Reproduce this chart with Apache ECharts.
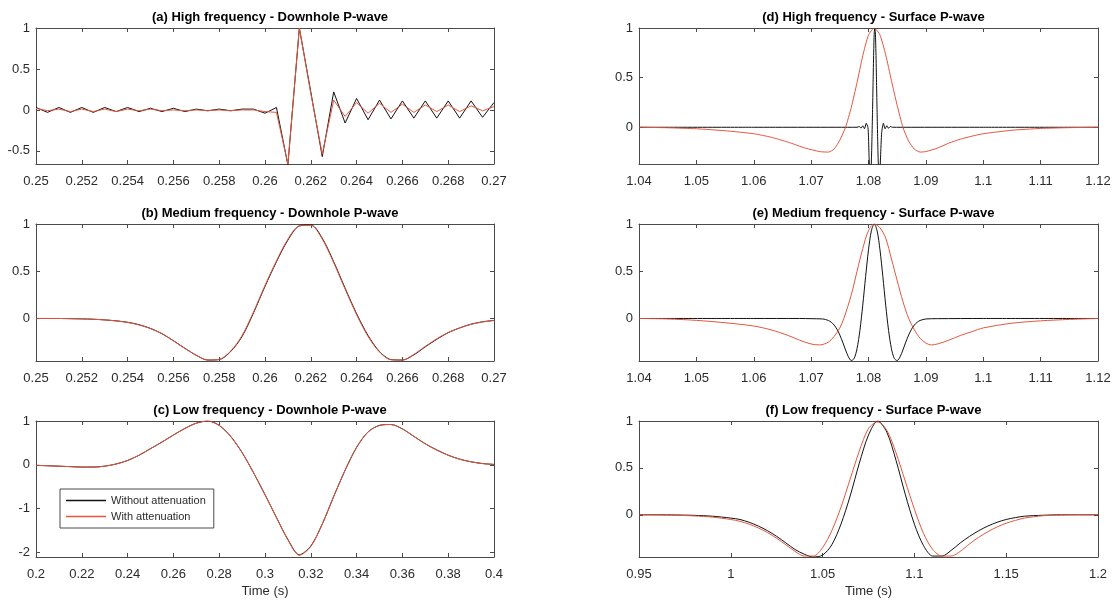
<!DOCTYPE html>
<html>
<head>
<meta charset="utf-8">
<script src="https://cdn.jsdelivr.net/npm/echarts@6/dist/echarts.min.js"></script>
<style>
html,body{margin:0;padding:0;background:#fff;}
#chart{width:1119px;height:601px;}
</style>
</head>
<body>
<div id="chart"></div>
<script>
// ---------------- DATA ----------------
const seriesNames = ['Without attenuation', 'With attenuation'];
const panelTitles = [
  '(a) High frequency - Downhole P-wave',
  '(b) Medium frequency - Downhole P-wave',
  '(c) Low frequency - Downhole P-wave',
  '(d) High frequency - Surface P-wave',
  '(e) Medium frequency - Surface P-wave',
  '(f) Low frequency - Surface P-wave'
];
const xAxisTitle = 'Time (s)';

// tick labels
const aXTicks = [0.25,0.252,0.254,0.256,0.258,0.26,0.262,0.264,0.266,0.268,0.27];
const bXTicks = [0.25,0.252,0.254,0.256,0.258,0.26,0.262,0.264,0.266,0.268,0.27];
const cXTicks = [0.2,0.22,0.24,0.26,0.28,0.3,0.32,0.34,0.36,0.38,0.4];
const dXTicks = [1.04,1.05,1.06,1.07,1.08,1.09,1.1,1.11,1.12];
const eXTicks = [1.04,1.05,1.06,1.07,1.08,1.09,1.1,1.11,1.12];
const fXTicks = [0.95,1,1.05,1.1,1.15,1.2];
const aYTicks = [-0.5,0,0.5,1];
const bYTicks = [0,0.5,1];
const cYTicks = [-2,-1,0,1];
const dYTicks = [0,0.5,1];
const eYTicks = [0,0.5,1];
const fYTicks = [0,0.5,1];

// axis ranges [xmin, xmax, ymin, ymax]
const aRange = [0.25, 0.27, -0.66, 1];
const bRange = [0.25, 0.27, -0.45, 1];
const cRange = [0.2, 0.4, -2.1, 1];
const dRange = [1.04, 1.12, -0.37, 1];
const eRange = [1.04, 1.12, -0.45, 1];
const fRange = [0.95, 1.2, -0.45, 1];

// (a) high frequency downhole
const aTime = [0.25,0.2505,0.251,0.2515,0.252,0.2525,0.253,0.2535,0.254,0.2545,0.255,0.2555,0.256,0.2565,0.257,0.2575,0.258,0.2585,0.259,0.2595,0.26,0.2605,0.261,0.2615,0.262,0.2625,0.263,0.2635,0.264,0.2645,0.265,0.2655,0.266,0.2665,0.267,0.2675,0.268,0.2685,0.269,0.2695,0.27];
const aBlack = [0.03,-0.03,0.03,-0.03,0.03,-0.03,0.03,-0.02,0.03,-0.02,0.02,-0.02,0.02,-0.02,0.01,-0.01,0.01,-0.01,0.01,0.01,-0.04,0.03,-0.67,1.0,0.22,-0.57,0.22,-0.16,0.14,-0.12,0.12,-0.11,0.11,-0.1,0.11,-0.1,0.11,-0.1,0.11,-0.09,0.09];
const aRed   = [0.02,-0.01,0.01,-0.02,0.01,-0.02,0.01,-0.02,0.01,-0.01,0.01,-0.01,0.0,-0.01,0.0,-0.01,0.0,-0.01,0.0,0.0,-0.02,-0.03,-0.66,1.0,0.2,-0.54,0.12,-0.08,0.09,-0.04,0.08,-0.03,0.07,-0.03,0.06,-0.02,0.06,-0.02,0.05,-0.01,0.04];

// (b) medium frequency downhole
const bTime = [0.25,0.2505,0.251,0.2515,0.252,0.2525,0.253,0.2535,0.254,0.2545,0.255,0.2555,0.256,0.2565,0.257,0.2575,0.258,0.2585,0.259,0.2595,0.26,0.2605,0.261,0.2615,0.262,0.2625,0.263,0.2635,0.264,0.2645,0.265,0.2655,0.266,0.2665,0.267,0.2675,0.268,0.2685,0.269,0.2695,0.27];
const bBlack = [0,0,0,-0.002,-0.004,-0.008,-0.015,-0.025,-0.04,-0.066,-0.105,-0.16,-0.235,-0.315,-0.39,-0.44,-0.435,-0.35,-0.19,0.06,0.34,0.6,0.83,0.98,0.99,0.85,0.6,0.32,0.05,-0.18,-0.35,-0.435,-0.44,-0.385,-0.3,-0.22,-0.15,-0.1,-0.06,-0.035,-0.02];
const bRed   = [0,0,0,-0.002,-0.004,-0.008,-0.015,-0.026,-0.042,-0.068,-0.107,-0.162,-0.237,-0.317,-0.39,-0.44,-0.433,-0.345,-0.18,0.07,0.35,0.61,0.84,0.98,0.985,0.84,0.59,0.31,0.04,-0.19,-0.355,-0.437,-0.44,-0.38,-0.295,-0.215,-0.148,-0.1,-0.062,-0.037,-0.022];

// (c) low frequency downhole
const cTime = [0.2,0.205,0.21,0.215,0.22,0.225,0.23,0.235,0.24,0.245,0.25,0.255,0.26,0.265,0.27,0.275,0.28,0.285,0.29,0.295,0.3,0.305,0.31,0.315,0.32,0.325,0.33,0.335,0.34,0.345,0.35,0.355,0.36,0.365,0.37,0.375,0.38,0.385,0.39,0.395,0.4];
const cBlack = [-0.01,-0.02,-0.03,-0.04,-0.05,-0.05,-0.03,0.02,0.1,0.22,0.37,0.52,0.68,0.83,0.95,1.0,0.9,0.65,0.28,-0.18,-0.68,-1.2,-1.7,-2.05,-1.85,-1.35,-0.72,-0.12,0.4,0.75,0.9,0.92,0.82,0.65,0.48,0.34,0.22,0.13,0.07,0.03,0.01];
const cRed   = [-0.01,-0.02,-0.03,-0.04,-0.05,-0.05,-0.03,0.02,0.1,0.22,0.37,0.52,0.68,0.83,0.95,1.0,0.9,0.65,0.28,-0.18,-0.68,-1.2,-1.71,-2.06,-1.86,-1.35,-0.72,-0.12,0.4,0.75,0.9,0.92,0.82,0.65,0.48,0.34,0.22,0.13,0.07,0.03,0.01];

// (d) high frequency surface
const dBlackTime = [1.04,1.06,1.078,1.0784,1.0787,1.079,1.0793,1.0796,1.0799,1.08,1.0801,1.0802,1.0803,1.0804,1.0805,1.0806,1.0807,1.0808,1.0809,1.081,1.0811,1.0812,1.0813,1.0814,1.0815,1.0816,1.0817,1.0818,1.0819,1.082,1.0821,1.0823,1.0826,1.0829,1.0832,1.0835,1.0838,1.0842,1.1,1.12];
const dBlack     = [0,0,0,0.008,-0.01,0.015,-0.015,0.04,0.0,-0.1,-0.3,-0.44,-0.5,-0.45,-0.35,-0.12,0.15,0.45,0.75,0.95,1.0,0.95,0.75,0.45,0.15,-0.12,-0.35,-0.45,-0.5,-0.44,-0.3,-0.05,0.04,-0.015,0.015,-0.01,0.008,0,0,0];
const dRedTime = [1.04,1.045,1.05,1.055,1.06,1.063,1.066,1.069,1.0715,1.073,1.074,1.075,1.076,1.077,1.078,1.079,1.08,1.081,1.082,1.083,1.084,1.085,1.086,1.087,1.088,1.089,1.09,1.092,1.094,1.096,1.098,1.1,1.105,1.11,1.115,1.12];
const dRed     = [0,-0.005,-0.015,-0.035,-0.065,-0.1,-0.15,-0.21,-0.245,-0.25,-0.22,-0.13,0.0,0.2,0.45,0.72,0.93,1.0,0.93,0.73,0.47,0.22,0.0,-0.14,-0.22,-0.25,-0.245,-0.21,-0.16,-0.12,-0.09,-0.065,-0.03,-0.012,-0.004,0];

// (e) medium frequency surface
const eBlackTime = [1.04,1.06,1.068,1.07,1.072,1.0725,1.073,1.0735,1.074,1.0745,1.075,1.0755,1.076,1.0765,1.077,1.0775,1.078,1.0785,1.079,1.0795,1.08,1.0805,1.081,1.0815,1.082,1.0825,1.083,1.0835,1.084,1.0845,1.085,1.0855,1.086,1.0865,1.087,1.0875,1.088,1.0885,1.089,1.09,1.092,1.1,1.12];
const eBlack     = [0,0,0,-0.002,-0.005,-0.011,-0.021,-0.039,-0.069,-0.113,-0.175,-0.25,-0.333,-0.406,-0.445,-0.423,-0.32,-0.127,0.141,0.445,0.727,0.928,1.0,0.928,0.727,0.445,0.141,-0.127,-0.32,-0.423,-0.445,-0.406,-0.333,-0.25,-0.175,-0.113,-0.069,-0.039,-0.021,-0.005,-0.002,0,0];
const eRedTime = [1.04,1.045,1.05,1.055,1.06,1.063,1.066,1.068,1.07,1.0715,1.073,1.074,1.075,1.0757,1.077,1.078,1.079,1.08,1.081,1.082,1.083,1.084,1.085,1.086,1.087,1.088,1.089,1.09,1.091,1.092,1.094,1.096,1.098,1.1,1.105,1.11,1.115,1.12];
const eRed     = [0,-0.005,-0.02,-0.045,-0.08,-0.12,-0.18,-0.23,-0.27,-0.28,-0.25,-0.19,-0.1,0,0.25,0.5,0.74,0.93,1.0,0.96,0.85,0.63,0.4,0.18,0.0,-0.12,-0.21,-0.26,-0.28,-0.27,-0.23,-0.18,-0.14,-0.1,-0.05,-0.025,-0.01,0];

// (f) low frequency surface
const fTime = [0.95,0.96,0.97,0.98,0.99,1.0,1.005,1.01,1.015,1.02,1.025,1.03,1.035,1.04,1.045,1.05,1.055,1.06,1.065,1.07,1.075,1.08,1.085,1.09,1.095,1.1,1.105,1.11,1.115,1.12,1.125,1.13,1.135,1.14,1.145,1.15,1.155,1.16,1.17,1.18,1.19,1.2];
const fBlack = [0,0,-0.002,-0.006,-0.015,-0.035,-0.05,-0.08,-0.12,-0.17,-0.23,-0.3,-0.37,-0.42,-0.45,-0.43,-0.32,-0.1,0.2,0.55,0.85,1.0,0.88,0.58,0.22,-0.1,-0.33,-0.44,-0.44,-0.38,-0.3,-0.23,-0.17,-0.12,-0.08,-0.05,-0.03,-0.015,-0.005,0,0,0];
const fRed   = [0,-0.002,-0.005,-0.012,-0.025,-0.05,-0.07,-0.1,-0.14,-0.19,-0.25,-0.32,-0.39,-0.44,-0.44,-0.35,-0.17,0.08,0.38,0.68,0.92,0.99,0.9,0.66,0.36,0.06,-0.2,-0.37,-0.44,-0.44,-0.39,-0.31,-0.24,-0.18,-0.13,-0.09,-0.06,-0.035,-0.01,-0.003,0,0];

// ---------------- LAYOUT / STYLE ----------------
const FONT = 'Liberation Sans, Arial, Helvetica, sans-serif';
const AXIS_COLOR = '#4a4a4a';
const TEXT_COLOR = '#2b2b2b';
const BLACK = '#111111';
const RED = '#e4563f';

const panels = [
  {title: panelTitles[0], grid:{left:36, top:28, width:458, height:136}, range:aRange, xt:aXTicks, yt:aYTicks,
   black:[aTime,aBlack], red:[aTime,aRed], smooth:false, xname:''},
  {title: panelTitles[1], grid:{left:36, top:224, width:458, height:137}, range:bRange, xt:bXTicks, yt:bYTicks,
   black:[bTime,bBlack], red:[bTime,bRed], smooth:0.3, xname:''},
  {title: panelTitles[2], grid:{left:36, top:421, width:458, height:136}, range:cRange, xt:cXTicks, yt:cYTicks,
   black:[cTime,cBlack], red:[cTime,cRed], smooth:0.3, xname:xAxisTitle},
  {title: panelTitles[3], grid:{left:639, top:28, width:459, height:136}, range:dRange, xt:dXTicks, yt:dYTicks,
   black:[dBlackTime,dBlack], red:[dRedTime,dRed], smooth:0.2, xname:''},
  {title: panelTitles[4], grid:{left:639, top:224, width:459, height:137}, range:eRange, xt:eXTicks, yt:eYTicks,
   black:[eBlackTime,eBlack], red:[eRedTime,eRed], smooth:0.3, xname:''},
  {title: panelTitles[5], grid:{left:639, top:421, width:459, height:136}, range:fRange, xt:fXTicks, yt:fYTicks,
   black:[fTime,fBlack], red:[fTime,fRed], smooth:0.3, xname:xAxisTitle}
];

function zip(t, v) { return t.map((x, i) => [x, v[i]]); }

const grid = [], xAxis = [], yAxis = [], series = [], title = [];

panels.forEach((p, i) => {
  grid.push(Object.assign({containLabel:false, show:false}, p.grid));
  const cx = p.grid.left + p.grid.width / 2;
  title.push({
    text: p.title, left: cx, top: p.grid.top - 22, textAlign: 'center',
    textStyle: {fontFamily: FONT, fontSize: 13, fontWeight: 'bold', color: '#000'}
  });
  const lineStyle = {color: AXIS_COLOR, width: 1};
  ['bottom', 'top'].forEach(pos => {
    xAxis.push({
      type: 'value', gridIndex: i, position: pos, min: p.range[0], max: p.range[1],
      axisLine: {show: true, onZero: false, lineStyle},
      axisTick: {show: true, inside: true, length: 4, customValues: p.xt, lineStyle},
      axisLabel: {show: pos === 'bottom', customValues: p.xt, margin: 11, color: TEXT_COLOR,
                  fontFamily: FONT, fontSize: 13, formatter: v => String(v)},
      splitLine: {show: false},
      name: pos === 'bottom' ? p.xname : '', nameLocation: 'middle', nameGap: 28,
      nameTextStyle: {fontFamily: FONT, fontSize: 13, color: TEXT_COLOR}
    });
  });
  ['left', 'right'].forEach(pos => {
    yAxis.push({
      type: 'value', gridIndex: i, position: pos, min: p.range[2], max: p.range[3],
      axisLine: {show: true, onZero: false, lineStyle},
      axisTick: {show: true, inside: true, length: 4, customValues: p.yt, lineStyle},
      axisLabel: {show: pos === 'left', customValues: p.yt, margin: 6, color: TEXT_COLOR,
                  fontFamily: FONT, fontSize: 13, formatter: v => String(v)},
      splitLine: {show: false}
    });
  });
  series.push({
    name: seriesNames[0], type: 'line', xAxisIndex: 2 * i, yAxisIndex: 2 * i,
    data: zip(p.black[0], p.black[1]), symbol: 'none', showSymbol: false, smooth: p.smooth,
    lineStyle: {color: BLACK, width: 1}, itemStyle: {color: BLACK}, clip: true, z: 2
  });
  series.push({
    name: seriesNames[1], type: 'line', xAxisIndex: 2 * i, yAxisIndex: 2 * i,
    data: zip(p.red[0], p.red[1]), symbol: 'none', showSymbol: false, smooth: p.smooth,
    lineStyle: {color: RED, width: 1}, itemStyle: {color: RED}, clip: true, z: 3
  });
});

const chart = echarts.init(document.getElementById('chart'), null, {renderer: 'canvas'});
chart.setOption({
  animation: false,
  backgroundColor: '#ffffff',
  title, grid, xAxis, yAxis, series,
  legend: {
    data: seriesNames, orient: 'vertical', left: 60, top: 489,
    icon: 'rect', itemWidth: 40, itemHeight: 1.5, itemGap: 5,
    backgroundColor: '#ffffff', borderColor: AXIS_COLOR, borderWidth: 1,
    padding: [6, 8, 6, 6],
    textStyle: {fontFamily: FONT, fontSize: 11, color: TEXT_COLOR},
    selectedMode: false
  }
});
</script>
</body>
</html>
